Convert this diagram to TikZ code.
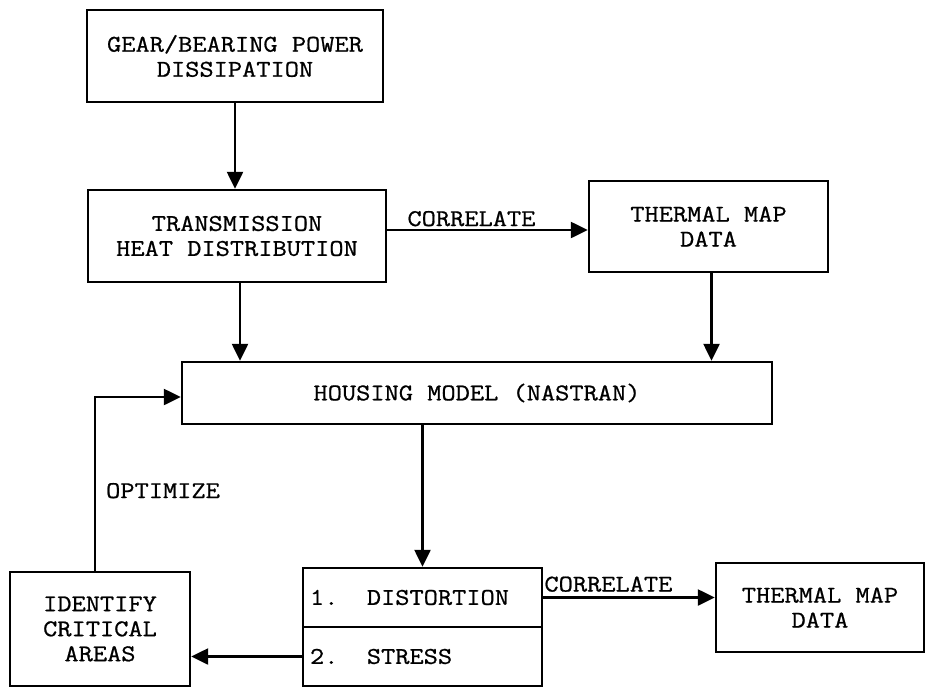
\documentclass[tikz,border=0pt]{standalone}
\usepackage{fontspec}
\setmonofont[FakeStretch=1.15,FakeBold=0.8]{Latin Modern Mono}
\usetikzlibrary{arrows.meta,calc}
\newcommand\diagfont{\ttfamily\fontsize{24}{25}\selectfont\frenchspacing}
\tikzset{
  box/.style={draw, line width=2.4pt, rectangle, inner sep=4pt, align=center, font=\diagfont},
  arr/.style={line width=2.4pt, -{Triangle[length=17pt,width=16pt]}},
  lab/.style={font=\diagfont, inner sep=0pt, anchor=base}
}
\begin{document}
\begin{tikzpicture}[x=1pt,y=-1pt]
\useasboundingbox (0,0) rectangle (928,688);
\fill[white] (0,0) rectangle (928,688);
% boxes
\node[box, minimum width=296pt, minimum height=92pt] (gear) at (235,56) {GEAR/BEARING POWER\\DISSIPATION};
\node[box, minimum width=298pt, minimum height=92pt] (trans) at (237,236) {TRANSMISSION\\HEAT DISTRIBUTION};
\node[box, minimum width=239pt, minimum height=91pt] (therm1) at (708.5,226.5) {THERMAL MAP\\DATA};
\node[box, minimum width=590pt, minimum height=62pt] (housing) at (477,393) {HOUSING MODEL (NASTRAN)};
\node[box, minimum width=180pt, minimum height=114pt] (crit) at (100,629) {IDENTIFY\\CRITICAL\\AREAS};
\node[box, minimum width=239pt, minimum height=59pt, text width=225pt, align=left] (dist) at (422.5,597.5) {1.\phantom{00}DISTORTION};
\node[box, minimum width=239pt, minimum height=59pt, text width=225pt, align=left] (stress) at (422.5,656.5) {2.\phantom{00}STRESS};
\node[box, minimum width=208pt, minimum height=89pt] (therm2) at (820,607.5) {THERMAL MAP\\DATA};
% connectors
\draw[arr] (gear.south) -- (gear.south |- trans.north);
\draw[arr] ([yshift=6pt]trans.east) -- ([yshift=6pt]trans.east -| therm1.west)
  node[lab, pos=0.42, yshift=4pt] (cor1) {CORRELATE};
\draw[arr] ([xshift=3pt]trans.south) -- ([xshift=3pt]trans.south |- housing.north);
\draw[arr] ([xshift=3pt]therm1.south) -- ([xshift=3pt]therm1.south |- housing.north);
\draw[arr] (dist.north |- housing.south) -- (dist.north);
\draw[arr] (stress.west) -- (stress.west -| crit.east);
\draw[arr] ([xshift=-5pt]crit.north) |- ([yshift=-4pt]housing.west);
\draw[arr] (dist.east) -- (dist.east -| therm2.west)
  node[lab, pos=0.38, yshift=6pt] (cor2) {CORRELATE};
\node[lab] (opt) at (163,498) {OPTIMIZE};
\end{tikzpicture}
\end{document}
